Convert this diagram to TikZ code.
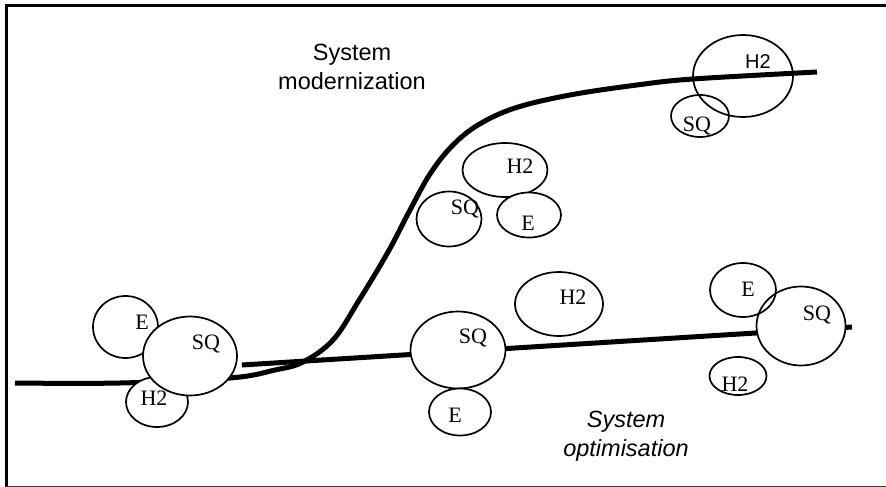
\documentclass[tikz,border=0pt]{standalone}
\usepackage{fontspec}
\setmainfont{Liberation Serif}
\setsansfont{Liberation Sans}
\usetikzlibrary{shapes.geometric}

\tikzset{
  blob/.style={draw, ellipse, line width=1.7pt, inner sep=0pt, fill=white},
  ring/.style={draw, ellipse, line width=1.7pt, inner sep=0pt},
  lbl/.style={inner sep=0pt, font=\fontsize{22}{22}\selectfont},
  slbl/.style={inner sep=0pt, font=\sffamily\fontsize{20}{20}\selectfont},
  trend/.style={line width=5pt, line cap=butt, line join=round},
  caption/.style={align=center, inner sep=0pt, font=\sffamily\fontsize{23.5}{29}\selectfont},
}

\begin{document}
\begin{tikzpicture}[x=1pt, y=-1pt]
\useasboundingbox (0,0) rectangle (886,487);

% frame
\coordinate (fTL) at (6,6);
\coordinate (fTR) at (886,6);
\coordinate (fBL) at (6,487);
\draw[line width=3pt] (fBL) -- (fTL) -- (fTR);
\coordinate (fB1) at (6,486);
\coordinate (fB2) at (886,486);
\draw[line width=1pt, black!75] (fB1) -- (fB2);

% modernization curve
\draw[trend] plot[smooth, tension=0.6] coordinates {
  (15,383) (120,383) (230,378) (275,370) (303,362) (333,340)
  (358,302) (388,252) (410,210) (430,174) (452,146) (478,125) (515,108)
  (570,95) (637,85) (693,79) (817,72)};

% optimisation line
\coordinate (oA) at (242,365);
\coordinate (oB) at (852,327);
\draw[trend] (oA) -- (oB);

% left group
\node[blob, minimum width=65pt, minimum height=62pt] (lE) at (125.5,327) {};
\node[blob, minimum width=62pt, minimum height=50pt] (lH) at (157,402) {};
\node[blob, minimum width=94pt, minimum height=79pt] (lS) at (190,356) {};
\node[lbl] (lEt) at (142,322) {E};
\node[lbl] (lSt) at (206,344) {SQ};
\node[lbl] (lHt) at (154,398) {H2};

% upper middle group
\node[blob, minimum width=85pt, minimum height=54pt] (uH) at (505,170) {};
\node[blob, minimum width=65pt, minimum height=55pt] (uS) at (449,219) {};
\node[blob, minimum width=64pt, minimum height=45pt] (uE) at (529,215) {};
\node[lbl] (uHt) at (520,166) {H2};
\node[lbl] (uSt) at (465,209) {SQ};
\node[lbl] (uEt) at (528,223) {E};

% middle group
\node[blob, minimum width=95pt, minimum height=77pt] (mS) at (458,350) {};
\node[blob, minimum width=88pt, minimum height=64pt] (mH) at (559,304) {};
\node[blob, minimum width=62pt, minimum height=47pt] (mE) at (460,412) {};
\node[lbl] (mSt) at (473,338) {SQ};
\node[lbl] (mHt) at (573,297) {H2};
\node[lbl] (mEt) at (455,415) {E};

% right group
\node[blob, minimum width=89pt, minimum height=79pt] (rS) at (801,326) {};
\node[ring, minimum width=66pt, minimum height=54pt] (rE) at (743,290) {};
\node[blob, minimum width=57pt, minimum height=38pt] (rH) at (738,376) {};
\node[lbl] (rSt) at (817,315) {SQ};
\node[lbl] (rEt) at (748,289) {E};
\node[lbl] (rHt) at (735,384) {H2};

% top right group
\node[ring, minimum width=100pt, minimum height=82pt] (tH) at (743,76) {};
\node[ring, minimum width=58pt, minimum height=42pt] (tS) at (700,116) {};
\node[slbl] (tHt) at (758,62) {H2};
\node[lbl] (tSt) at (697,126) {SQ};

% captions
\node[caption] (capM) at (352,67) {System\\modernization};
\node[caption, font=\sffamily\itshape\fontsize{23.5}{29}\selectfont] (capO) at (626,436) {System\\optimisation};
\end{tikzpicture}
\end{document}
